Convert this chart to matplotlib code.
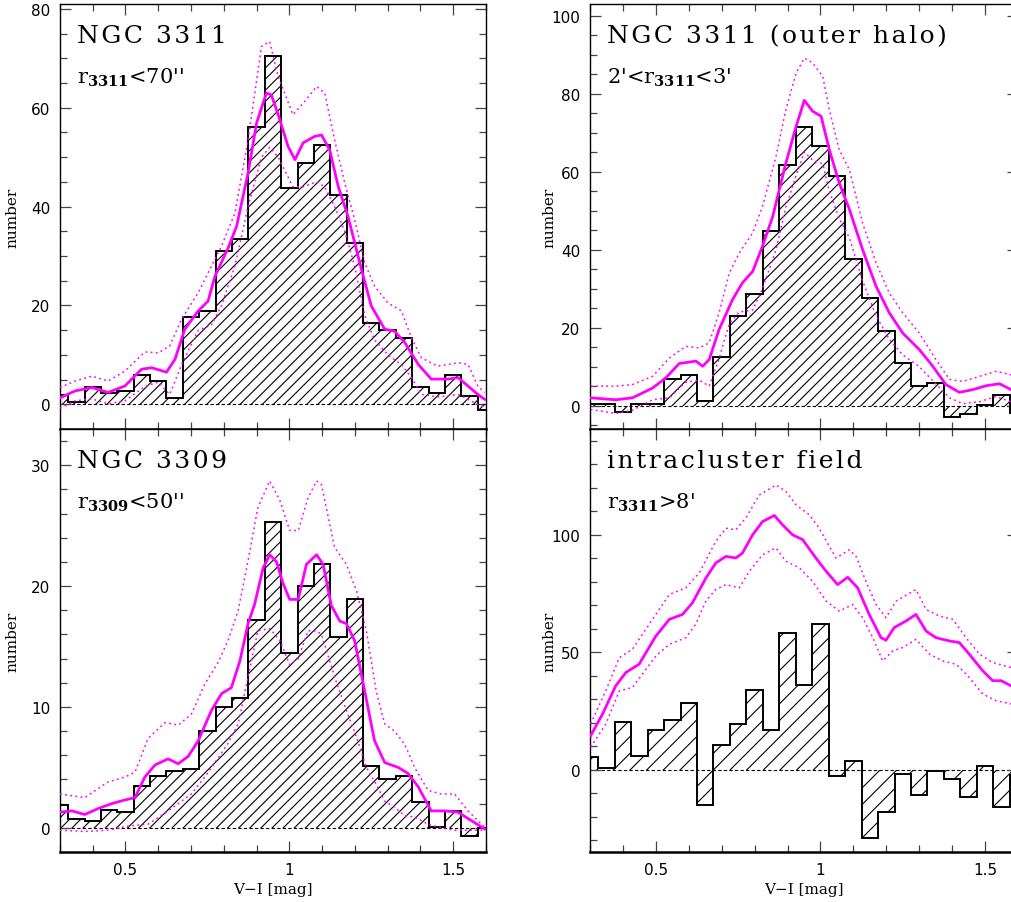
#!/usr/bin/env python3
"""Colour distributions of globular clusters around NGC 3311 / NGC 3309."""

import matplotlib

matplotlib.use("Agg")
import matplotlib.pyplot as plt
import numpy as np
from matplotlib.ticker import FuncFormatter, MultipleLocator


MAGENTA = "#ff00ff"
BIN_EDGES = np.round(np.arange(0.275, 1.626, 0.05), 3)

# --- NGC 3311, r < 70"
N3311_HIST = [1.8, 0.5, 3.4, 2.2, 2.7, 5.9, 4.8, 1.3, 17.6, 18.9, 31.0, 33.5, 56.2, 70.4,
              43.8, 48.8, 52.4, 42.4, 32.7, 16.4, 15.0, 13.5, 3.4, 2.2, 5.9, 1.7, -1.1]
N3311_KDE_X = [0.300, 0.346, 0.397, 0.447, 0.498, 0.549, 0.580, 0.625, 0.651, 0.681, 0.722,
               0.752, 0.773, 0.813, 0.839, 0.874, 0.900, 0.930, 0.945, 0.966, 0.996, 1.017,
               1.042, 1.077, 1.098, 1.123, 1.149, 1.179, 1.220, 1.250, 1.291, 1.321, 1.352,
               1.393, 1.433, 1.484, 1.515, 1.545, 1.575, 1.596]
N3311_KDE = [1.3, 2.7, 3.4, 2.4, 3.7, 7.1, 7.4, 6.5, 9.1, 15.2, 18.9, 20.9, 25.9, 31.6, 36.0,
             46.8, 56.9, 63.0, 62.6, 58.6, 52.2, 49.5, 52.9, 54.2, 54.5, 51.5, 44.1, 38.0,
             27.3, 19.9, 15.2, 14.8, 12.5, 8.1, 5.1, 5.1, 5.4, 3.7, 2.0, 1.0]
N3311_BAND_X = [0.300, 0.346, 0.397, 0.447, 0.498, 0.559, 0.600, 0.635, 0.671, 0.722, 0.762,
                0.793, 0.834, 0.874, 0.915, 0.940, 0.966, 1.011, 1.042, 1.083, 1.108, 1.138,
                1.169, 1.199, 1.230, 1.260, 1.301, 1.342, 1.372, 1.403, 1.453, 1.515, 1.545,
                1.575, 1.596]
N3311_HI = [3.4, 4.7, 5.7, 4.7, 6.7, 10.6, 10.4, 11.8, 17.2, 22.6, 27.9, 32.0, 38.7, 53.5,
            72.4, 73.4, 66.3, 58.6, 60.9, 64.3, 63.0, 53.5, 44.8, 37.4, 28.6, 23.9, 20.5,
            18.9, 13.5, 9.4, 7.7, 8.4, 8.1, 3.7, 2.4]
N3311_LO = [-0.8, 0.7, 1.1, 0.1, 0.7, 3.6, 4.5, 2.0, 8.0, 15.0, 16.0, 20.0, 28.0, 40.0, 50.0,
            52.0, 50.0, 44.0, 44.0, 45.0, 44.0, 40.0, 35.0, 28.0, 18.0, 13.0, 10.0, 8.0, 5.5,
            2.0, 1.5, 2.0, 1.0, 0.0, -0.5]

# --- NGC 3311 outer halo, 2' < r < 3'
HALO_HIST = [0.3, 0.3, -1.6, 0.3, 0.3, 6.7, 7.8, 1.1, 12.5, 22.9, 28.6, 44.9, 61.6, 71.4,
             66.5, 59.0, 37.7, 27.6, 19.2, 10.9, 5.0, 5.8, -2.9, -2.1, 0.1, 2.6, -1.9]
HALO_KDE_X = [0.302, 0.378, 0.429, 0.490, 0.530, 0.571, 0.622, 0.642, 0.662, 0.692, 0.733,
              0.763, 0.794, 0.824, 0.855, 0.875, 0.895, 0.926, 0.951, 0.976, 1.002, 1.027,
              1.057, 1.088, 1.128, 1.169, 1.209, 1.250, 1.300, 1.341, 1.381, 1.422, 1.463,
              1.503, 1.544, 1.579]
HALO_KDE = [2.0, 1.5, 2.0, 4.5, 7.1, 10.8, 11.4, 10.1, 11.8, 19.5, 27.2, 31.5, 34.4, 40.9,
            48.5, 55.4, 62.2, 71.6, 78.3, 75.5, 74.2, 65.6, 57.1, 50.3, 40.0, 30.6, 23.8,
            18.6, 14.4, 10.1, 5.4, 3.4, 4.1, 5.1, 5.6, 4.1]
HALO_BAND_X = [0.302, 0.378, 0.429, 0.490, 0.541, 0.591, 0.632, 0.662, 0.692, 0.723, 0.753,
               0.794, 0.824, 0.865, 0.895, 0.926, 0.951, 0.976, 1.007, 1.027, 1.057, 1.088,
               1.128, 1.169, 1.209, 1.250, 1.300, 1.351, 1.392, 1.432, 1.483, 1.533, 1.579]
HALO_HI = [5.0, 5.0, 5.4, 7.5, 12.2, 15.2, 14.8, 16.1, 23.8, 34.0, 39.1, 44.3, 51.1, 63.9,
           75.9, 85.3, 89.1, 87.9, 84.4, 75.9, 65.6, 60.5, 46.8, 36.6, 28.9, 23.8, 18.6,
           11.8, 6.7, 6.2, 7.5, 8.8, 7.9]
HALO_LO = [-1.0, -2.0, -1.2, 1.5, 2.0, 6.0, 6.5, 5.0, 12.0, 21.0, 24.0, 24.5, 30.0, 40.0,
           51.0, 59.0, 65.0, 63.0, 62.0, 55.0, 48.0, 43.0, 32.0, 23.0, 17.0, 13.0, 10.0,
           5.5, 2.0, 0.5, 1.0, 2.3, 1.0]

# --- NGC 3309, r < 50"
N3309_HIST = [1.9, 0.7, 0.6, 1.5, 1.3, 3.5, 4.3, 4.7, 4.9, 8.0, 10.0, 10.7, 17.2, 25.3,
              14.5, 20.0, 21.8, 15.8, 18.9, 5.1, 4.0, 4.3, 2.1, 0.05, 1.4, -0.7, 0.0]
N3309_KDE_X = [0.300, 0.336, 0.376, 0.417, 0.458, 0.498, 0.529, 0.559, 0.590, 0.630, 0.661,
               0.691, 0.722, 0.762, 0.793, 0.823, 0.849, 0.874, 0.894, 0.920, 0.940, 0.961,
               0.981, 1.001, 1.027, 1.052, 1.083, 1.103, 1.128, 1.154, 1.174, 1.199, 1.230,
               1.260, 1.291, 1.332, 1.362, 1.393, 1.433, 1.474, 1.514, 1.555, 1.596]
N3309_KDE = [1.3, 1.4, 1.1, 1.6, 2.0, 2.3, 2.5, 4.2, 5.2, 5.7, 5.3, 5.9, 7.2, 9.7, 11.1,
             11.6, 13.8, 16.9, 18.5, 21.5, 22.6, 22.0, 20.2, 18.9, 18.9, 21.8, 22.6, 21.8,
             18.4, 17.1, 16.9, 15.5, 11.3, 7.2, 5.4, 5.0, 4.5, 3.4, 1.4, 1.4, 1.3, 0.6, -0.1]
N3309_BAND_X = [0.300, 0.376, 0.447, 0.498, 0.529, 0.569, 0.620, 0.661, 0.701, 0.742, 0.783,
                0.813, 0.844, 0.874, 0.904, 0.940, 0.971, 1.001, 1.027, 1.057, 1.083, 1.098,
                1.138, 1.174, 1.205, 1.235, 1.265, 1.291, 1.321, 1.352, 1.382, 1.423, 1.463,
                1.504, 1.545, 1.596]
N3309_HI = [2.8, 2.5, 3.8, 4.2, 4.6, 7.4, 8.7, 8.5, 9.4, 11.9, 13.7, 15.5, 18.0, 22.1, 26.5,
            28.7, 27.1, 24.6, 24.6, 27.3, 28.7, 28.4, 23.2, 21.8, 19.6, 16.3, 11.3, 8.6, 8.0,
            6.9, 5.0, 3.1, 2.8, 2.8, 1.4, 0.05]
N3309_LO = [-0.2, -0.3, -0.2, 0.1, 0.2, 0.3, 1.2, 2.0, 2.8, 4.2, 5.8, 7.0, 8.6, 12.5, 16.3,
            16.5, 15.5, 13.5, 14.0, 16.3, 16.3, 16.0, 12.5, 9.7, 7.5, 5.0, 3.6, 2.2, 1.7,
            1.0, 0.9, 0.3, 0.0, -0.2, -0.2, -0.2]

# --- intracluster field, r > 8'
ICL_HIST = [5.4, 0.8, 20.2, 5.8, 16.9, 21.2, 28.5, -14.8, 10.6, 19.4, 34.0, 16.9, 58.1, 36.2,
            62.1, -2.5, 3.7, -29.0, -18.2, -1.7, -10.6, -0.6, -3.8, -11.6, 1.8, -15.8, -2.4]
ICL_KDE_X = [0.302, 0.338, 0.378, 0.409, 0.449, 0.500, 0.541, 0.581, 0.611, 0.652, 0.682,
             0.713, 0.743, 0.763, 0.794, 0.824, 0.860, 0.885, 0.915, 0.946, 0.986, 1.017,
             1.052, 1.083, 1.113, 1.148, 1.184, 1.199, 1.224, 1.260, 1.290, 1.321, 1.351,
             1.392, 1.422, 1.452, 1.493, 1.523, 1.549, 1.579]
ICL_KDE = [14.5, 23.7, 35.7, 41.4, 44.9, 56.9, 64.0, 66.1, 71.0, 81.6, 88.0, 90.8, 90.1, 92.2,
           100.0, 105.6, 108.2, 104.2, 100.0, 97.9, 90.1, 84.5, 78.8, 81.9, 77.4, 66.1, 56.2,
           55.1, 60.5, 63.3, 66.1, 59.0, 56.2, 54.8, 54.1, 49.2, 42.1, 37.9, 37.9, 35.7]
ICL_HI_X = [0.302, 0.348, 0.389, 0.429, 0.459, 0.500, 0.541, 0.591, 0.632, 0.682, 0.713,
            0.743, 0.773, 0.814, 0.865, 0.895, 0.926, 0.966, 0.996, 1.047, 1.088, 1.108,
            1.138, 1.169, 1.199, 1.230, 1.290, 1.321, 1.361, 1.402, 1.442, 1.483, 1.523, 1.579]
ICL_HI = [19.5, 33.6, 47.7, 51.3, 57.6, 66.1, 74.6, 77.4, 83.8, 97.2, 102.8, 102.1, 107.1,
          116.9, 121.2, 118.4, 112.7, 108.5, 102.8, 90.1, 93.6, 90.8, 80.2, 70.3, 64.7, 71.8,
          76.7, 68.2, 65.4, 64.0, 56.2, 49.2, 45.6, 43.5]
ICL_LO_X = [0.302, 0.348, 0.389, 0.429, 0.459, 0.500, 0.541, 0.591, 0.621, 0.652, 0.682,
            0.713, 0.753, 0.784, 0.824, 0.865, 0.895, 0.936, 0.976, 1.017, 1.057, 1.098,
            1.128, 1.159, 1.189, 1.220, 1.250, 1.290, 1.331, 1.371, 1.412, 1.452, 1.493,
            1.533, 1.579]
ICL_LO = [9.6, 19.5, 33.6, 35.0, 40.7, 48.4, 53.4, 56.2, 61.9, 71.8, 76.7, 78.8, 77.4, 84.5,
          91.5, 94.4, 88.7, 85.9, 80.2, 71.8, 67.5, 70.3, 64.7, 56.2, 46.3, 50.6, 52.0, 55.5,
          49.2, 46.3, 44.9, 39.3, 32.2, 29.4, 28.0]

SERIF = "DejaVu Serif"
plt.rcParams["mathtext.fontset"] = "dejavuserif"
plt.rcParams["hatch.linewidth"] = 0.8


def style_axes(ax, ylim, major, minor, show_x, label_x):
    ax.set_xlim(0.3, 1.6)
    ax.set_ylim(*ylim)
    ax.xaxis.set_major_locator(MultipleLocator(0.5))
    ax.xaxis.set_minor_locator(MultipleLocator(0.1))
    ax.yaxis.set_major_locator(MultipleLocator(major))
    ax.yaxis.set_minor_locator(MultipleLocator(minor))
    ax.tick_params(which="both", direction="in", top=True, right=True, color="#444444",
                   width=0.9, labelsize=11, pad=7)
    ax.tick_params(which="major", length=8)
    ax.tick_params(which="minor", length=5)
    for spine in ax.spines.values():
        spine.set_linewidth(1.0)
    ax.spines["bottom"].set_linewidth(1.8)
    ax.xaxis.set_major_formatter(FuncFormatter(lambda v, _: f"{v:g}"))
    if show_x:
        ax.set_xlabel("V\u2212I [mag]", family=SERIF, fontsize=11)
    else:
        ax.tick_params(labelbottom=False)
    ax.set_ylabel("number", family=SERIF, fontsize=11)
    ax.yaxis.set_label_coords(label_x, 0.5)


def draw_panel(ax, hist, hatch, kde, hi, lo, title, subtitle):
    centers = (BIN_EDGES[:-1] + BIN_EDGES[1:]) / 2
    ax.axhline(0, color="black", linewidth=0.8, linestyle=(0, (3, 2)), zorder=1)
    ax.bar(centers, hist, width=0.05, facecolor="none", edgecolor="black", hatch=hatch,
           linewidth=0, zorder=2)
    ax.stairs(hist, BIN_EDGES, baseline=None, color="black", linewidth=1.4, zorder=3)
    ax.plot(*kde, color=MAGENTA, linewidth=2.0, zorder=4, solid_joinstyle="round")
    ax.plot(*hi, color=MAGENTA, linewidth=1.1, linestyle=(0, (1.2, 2.2)), zorder=4)
    ax.plot(*lo, color=MAGENTA, linewidth=1.1, linestyle=(0, (1.2, 2.2)), zorder=4)
    # the original lettering is spaced wide, so pad glyphs with hair spaces
    wide = "\u200a".join(title)
    ax.text(0.04, 0.91, wide, transform=ax.transAxes, family=SERIF, fontsize=18)
    ax.text(0.04, 0.815, subtitle, transform=ax.transAxes, family=SERIF, fontsize=15)


def main():
    fig = plt.figure(figsize=(10.11, 9.03), dpi=100)
    ax1 = fig.add_axes([0.0593, 0.5238, 0.4214, 0.4707])
    ax2 = fig.add_axes([0.5836, 0.5238, 0.4233, 0.4707])
    ax3 = fig.add_axes([0.0593, 0.0554, 0.4214, 0.4684])
    ax4 = fig.add_axes([0.5836, 0.0554, 0.4233, 0.4684])

    draw_panel(ax1, N3311_HIST, "///", (N3311_KDE_X, N3311_KDE), (N3311_BAND_X, N3311_HI),
               (N3311_BAND_X, N3311_LO), "NGC 3311", r"r$_{\mathbf{3311}}$<70''")
    style_axes(ax1, (-5, 81), 20, 5, False, -0.095)

    draw_panel(ax2, HALO_HIST, "///", (HALO_KDE_X, HALO_KDE), (HALO_BAND_X, HALO_HI),
               (HALO_BAND_X, HALO_LO), "NGC 3311 (outer halo)",
               r"2'<r$_{\mathbf{3311}}$<3'")
    style_axes(ax2, (-6, 103), 20, 5, False, -0.078)

    draw_panel(ax3, N3309_HIST, "///", (N3309_KDE_X, N3309_KDE), (N3309_BAND_X, N3309_HI),
               (N3309_BAND_X, N3309_LO), "NGC 3309", r"r$_{\mathbf{3309}}$<50''")
    style_axes(ax3, (-2, 33), 10, 2, True, -0.095)

    draw_panel(ax4, ICL_HIST, "//", (ICL_KDE_X, ICL_KDE), (ICL_HI_X, ICL_HI),
               (ICL_LO_X, ICL_LO), "intracluster field", r"r$_{\mathbf{3311}}$>8'")
    style_axes(ax4, (-35, 145), 50, 10, True, -0.078)

    fig.savefig("out.png", dpi=100)
    plt.close(fig)


if __name__ == "__main__":
    main()
